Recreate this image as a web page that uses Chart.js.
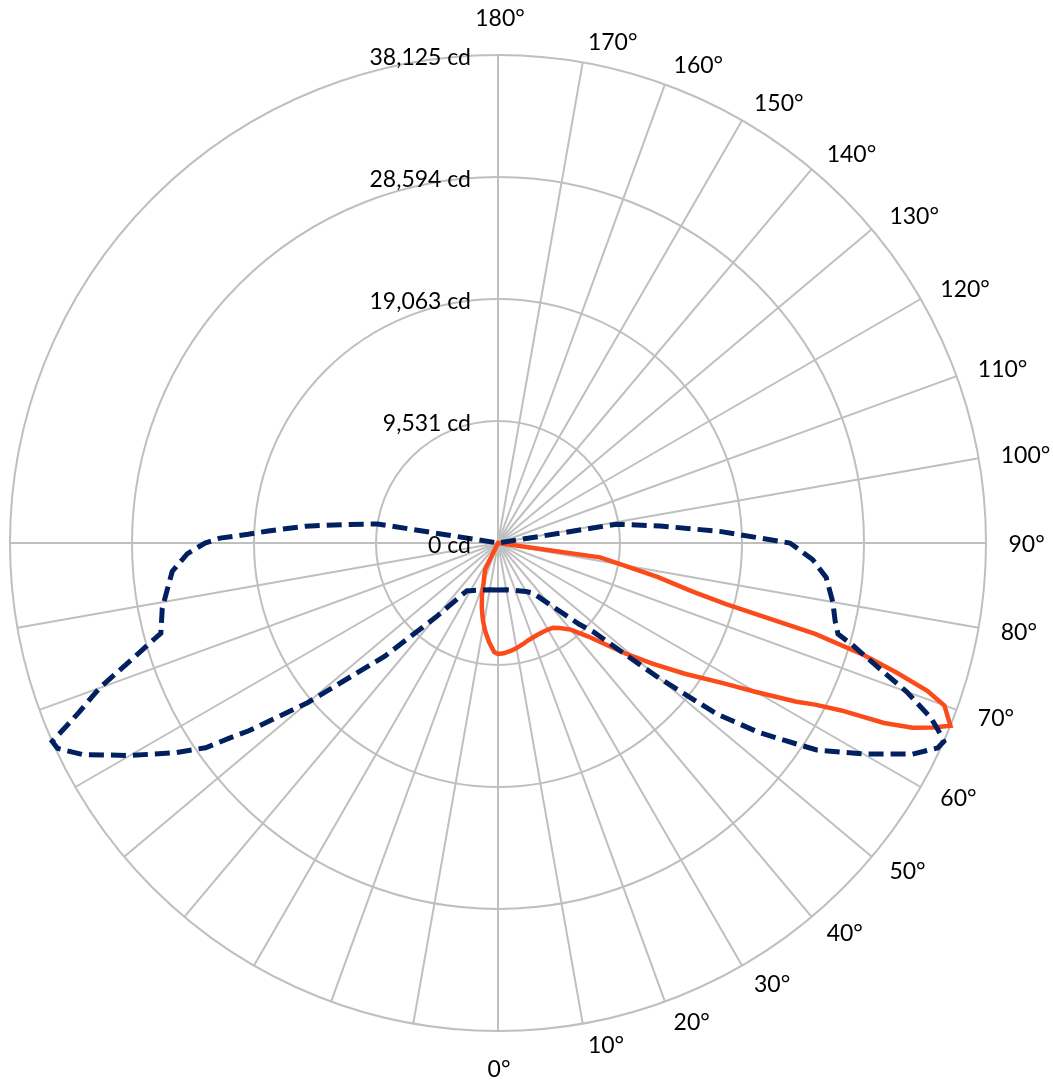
<!DOCTYPE html>
<html><head><meta charset="utf-8">
<script src="https://cdn.jsdelivr.net/npm/chart.js@4/dist/chart.umd.min.js"></script>
<style>html,body{margin:0;padding:0;background:#fff;overflow:hidden}#wrap{width:1053px;height:1084px}</style>
</head><body><div id="wrap"><canvas id="c" width="1053" height="1084"></canvas></div>
<script>
// Angle labels (right half of the diagram, gamma 0..180)
const labelGammas = [0,10,20,30,40,50,60,70,80,90,100,110,120,130,140,150,160,170,180];
const angleLabels = ['0°','10°','20°','30°','40°','50°','60°','70°','80°','90°','100°','110°','120°','130°','140°','150°','160°','170°','180°'];
// Radial ticks
const tickValues = [0, 9531.25, 19062.5, 28593.75, 38125];
const tickLabels = ['0 cd','9,531 cd','19,063 cd','28,594 cd','38,125 cd'];

// Dashed navy series, right half (gamma, cd)
const blueRightGamma = [0,10,20,25,30,35,40,45,47,50,52,54,55,57,60,63,65,66,67,68,70,72,74,75,77,80,84,87,90,93,96,99,100,180];
const blueRightCd    = [3670,3710,3950,4140,4380,4770,6250,8980,10160,16410,21720,25160,26560,29690,32970,36330,37900,38125,37340,36480,33980,31090,28750,27500,27030,26560,25780,24610,22810,17340,12730,9380,0,0];
// Dashed navy series, left half
const blueLeftGamma = [10,20,30,33,35,40,45,50,53,54,55,57,60,63,65,66,67,68,70,72,73,74,75,79,82,85,88,90,91,92,93,95,97,99,100];
const blueLeftCd    = [3710,3910,4300,4450,5000,7580,12500,19380,24380,25940,27890,30080,33200,36410,37970,38125,36640,35310,33130,30470,29300,28280,27270,26720,26090,25550,24300,22890,21720,19530,17970,15080,11880,9530,0];

// Solid orange series, right half
const orangeRightGamma = [0,3,7,10,14,17,20,23,27,30,33,36,40,44,46,49,52,55,58,60,62,63,64,65,66,67,68,70,71,72,73,74,75,76,78,80,82,83];
const orangeRightCd    = [8670,8630,8480,8340,8130,7970,7880,7810,7790,7810,7890,8200,8830,10160,11170,13130,15310,17810,20630,23280,26410,27810,29840,33280,35470,36880,38125,37110,35470,32730,29840,25780,18440,15630,12730,9920,8050,0];
// Solid orange series, left half
const orangeLeftGamma = [2,5,8,11,14,17,20,23,26,27];
const orangeLeftCd    = [8520,7810,7030,6170,5230,4300,3280,2730,2270,0];

const N = 360; // one category per degree, clockwise from the bottom
const categories = Array.from({length: N}, (_, i) => String(i));

function buildSeries(rightG, rightV, leftG, leftV) {
  const arr = new Array(N).fill(null);
  rightG.forEach((g, k) => { arr[(360 - g) % 360] = rightV[k]; });
  leftG.forEach((g, k) => { arr[g % 360] = leftV[k]; });
  return arr;
}

const FONT = '23px Lato';
const labelPlugin = {
  id: 'polarLabels',
  afterDraw(chart) {
    const s = chart.scales.r, c = chart.ctx;
    c.save();
    c.font = FONT; c.fillStyle = '#000'; c.textBaseline = 'alphabetic';
    c.textAlign = 'right';
    tickValues.forEach((v, k) => {
      const d = s.getDistanceFromCenterForValue(v);
      c.fillText(tickLabels[k], s.xCenter - 27, s.yCenter - d + 10);
    });
    const R = s.drawingArea + 21;
    labelGammas.forEach((g, k) => {
      const p = s.getPointPosition((360 - g) % 360, R);
      if (g === 0) { c.textAlign = 'center'; c.fillText(angleLabels[k], p.x + 1, p.y + 25); }
      else if (g === 180) { c.textAlign = 'center'; c.fillText(angleLabels[k], p.x + 2, p.y - 8); }
      else { c.textAlign = 'left'; c.fillText(angleLabels[k], p.x + 1.5, p.y + 8.5); }
    });
    c.restore();
  }
};

// spokes every 10 degrees, none in the upper-left quadrant
function spokeWidth(ctx) {
  const i = ctx.index;
  if (i % 10 !== 0) return 0;
  if (i > 90 && i < 180) return 0;
  return 2;
}

new Chart(document.getElementById('c'), {
  type: 'radar',
  data: {
    labels: categories,
    datasets: [
      { label: 'C0-C180', data: buildSeries(orangeRightGamma, orangeRightCd, orangeLeftGamma, orangeLeftCd),
        borderColor: '#FC4B1B', borderWidth: 4.5, fill: false, pointRadius: 0, spanGaps: true, order: 1 },
      { label: 'C90-C270', data: buildSeries(blueRightGamma, blueRightCd, blueLeftGamma, blueLeftCd),
        borderColor: '#002060', borderWidth: 5, borderDash: [15, 7], fill: false, pointRadius: 0, spanGaps: true, order: 0 }
    ]
  },
  options: {
    responsive: false, animation: false, devicePixelRatio: 1,
    layout: { padding: { left: 10, right: 67, top: 55, bottom: 53 } },
    plugins: { legend: { display: false }, tooltip: { enabled: false } },
    elements: { line: { tension: 0, borderJoinStyle: 'miter' } },
    scales: {
      r: {
        min: 0, max: 38125, startAngle: 180,
        ticks: { display: false, stepSize: 9531.25 },
        afterBuildTicks: (sc) => { sc.ticks = tickValues.map(v => ({ value: v })); },
        grid: { circular: true, color: '#BFBFBF', lineWidth: 2 },
        angleLines: { display: true, color: '#BFBFBF', lineWidth: spokeWidth },
        pointLabels: { display: false }
      }
    }
  },
  plugins: [labelPlugin]
});
</script>
</body></html>
